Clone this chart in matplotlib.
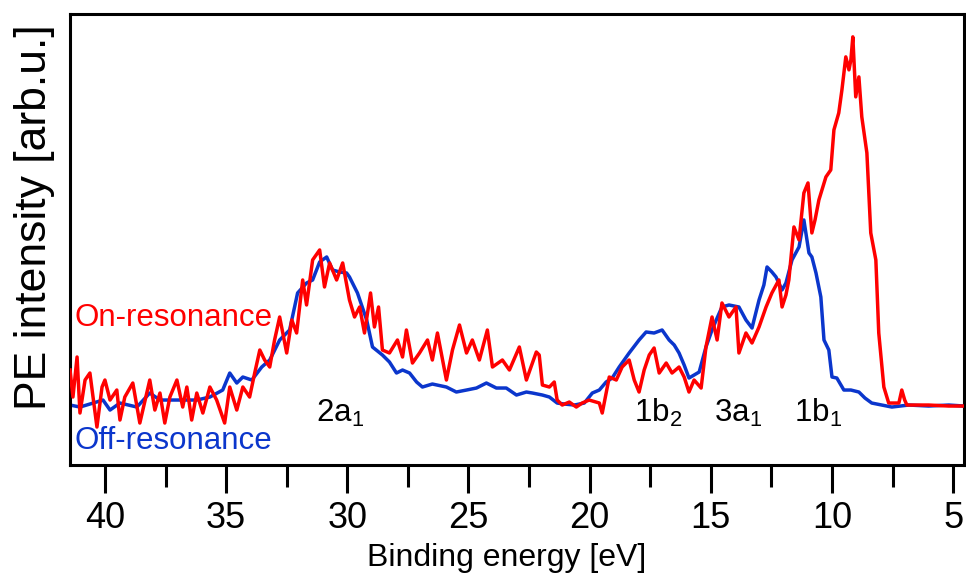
import matplotlib
matplotlib.use("Agg")
import matplotlib.pyplot as plt

plt.rcParams['font.family'] = ['Liberation Sans', 'DejaVu Sans']
plt.rcParams['mathtext.default'] = 'regular'

# Off-resonance spectrum (binding energy [eV], intensity [arb.u.])
off_energy = [41.44, 41.03, 40.62, 40.08, 39.79, 39.38, 38.68, 38.15, 37.73, 37.32,
              36.91, 36.21, 35.67, 35.14, 34.85, 34.56, 34.31, 33.94, 33.53, 33.20,
              32.79, 32.38, 32.05, 31.68, 31.43, 31.14, 30.85, 30.61, 30.32, 30.03,
              29.91, 29.58, 29.20, 28.96, 28.55, 28.26, 27.97, 27.72, 27.43, 27.14,
              26.90, 26.49, 25.91, 25.50, 25.08, 24.67, 24.26, 23.85, 23.44, 23.02,
              22.61, 22.36, 21.95, 21.66, 21.34, 21.05, 20.63, 20.22, 19.89, 19.60,
              19.32, 19.07, 18.78, 18.37, 17.96, 17.67, 17.34, 17.01, 16.72, 16.51,
              16.31, 16.10, 15.90, 15.69, 15.48, 15.20, 14.95, 14.74, 14.54, 14.25,
              13.84, 13.55, 13.30, 13.01, 12.81, 12.68, 12.48, 12.31, 12.06, 11.90,
              11.65, 11.36, 11.16, 10.95, 10.83, 10.66, 10.46, 10.33, 10.13, 10.00,
              9.80, 9.51, 9.22, 8.89, 8.64, 8.36, 7.53, 6.83, 6.01, 5.18, 4.55]
off_intensity = [0, -2, 1, 5, -5, 2, -2, 12, 5, 5,
                 5, 5, 8, 15, 32, 22, 28, 25, 38, 45,
                 65, 75, 112, 122, 125, 143, 148, 135, 133, 132,
                 128, 112, 85, 58, 50, 43, 32, 35, 32, 23,
                 18, 21, 18, 13, 15, 17, 22, 17, 17, 10,
                 13, 12, 10, 8, 2, 1, 0, 2, 12, 15,
                 23, 27, 38, 52, 65, 73, 72, 75, 65, 60,
                 52, 40, 27, 30, 33, 58, 75, 87, 98, 100,
                 98, 85, 77, 105, 120, 138, 133, 128, 115, 122,
                 145, 158, 185, 152, 148, 132, 108, 65, 55, 28,
                 27, 15, 15, 13, 7, 2, -2, 0, -1, 0, -1]

# On-resonance spectrum
on_energy = [41.44, 41.32, 41.15, 41.03, 40.82, 40.62, 40.33, 40.12, 40.00, 39.79,
             39.51, 39.38, 39.18, 38.85, 38.56, 38.15, 37.94, 37.73, 37.53, 37.32,
             37.03, 36.79, 36.62, 36.42, 36.21, 35.96, 35.67, 35.39, 35.06, 34.85,
             34.56, 34.31, 34.03, 33.82, 33.61, 33.41, 33.20, 33.00, 32.79, 32.50,
             32.29, 32.09, 31.84, 31.68, 31.43, 31.14, 30.94, 30.73, 30.44, 30.19,
             29.91, 29.70, 29.49, 29.29, 29.04, 28.88, 28.71, 28.55, 28.26, 27.93,
             27.72, 27.56, 27.31, 27.02, 26.69, 26.49, 26.28, 25.91, 25.66, 25.37,
             25.08, 24.84, 24.55, 24.22, 24.01, 23.60, 23.31, 22.90, 22.61, 22.20,
             22.08, 21.95, 21.66, 21.46, 21.34, 21.13, 20.84, 20.55, 20.31, 20.02,
             19.60, 19.48, 19.19, 18.90, 18.66, 18.37, 18.16, 17.96, 17.75, 17.54,
             17.34, 17.13, 16.84, 16.60, 16.31, 16.10, 15.90, 15.69, 15.40, 15.20,
             14.95, 14.74, 14.54, 14.25, 13.96, 13.84, 13.55, 13.30, 13.01, 12.72,
             12.48, 12.19, 12.06, 11.90, 11.78, 11.57, 11.36, 11.16, 10.99, 10.83,
             10.70, 10.54, 10.25, 10.05, 9.92, 9.72, 9.59, 9.43, 9.30, 9.22,
             9.14, 9.02, 8.89, 8.77, 8.56, 8.40, 8.19, 8.07, 7.86, 7.66,
             7.37, 7.24, 7.12, 7.00, 6.91, 6.01, 5.18, 4.55]
on_intensity = [35, 8, 48, -8, 25, 32, -22, 18, 25, 5,
                15, -15, 8, 22, -18, 25, -5, 12, -18, 8,
                25, -2, 18, -15, 12, -8, 18, 5, -18, 18,
                -5, 18, 8, 32, 55, 45, 38, 65, 88, 52,
                85, 72, 125, 100, 145, 155, 118, 142, 125, 142,
                105, 88, 98, 72, 112, 78, 98, 55, 52, 65,
                48, 75, 42, 52, 65, 45, 72, 25, 55, 80,
                52, 65, 45, 75, 38, 45, 35, 58, 25, 53,
                50, 20, 18, 23, 5, 0, 3, -2, 2, 5,
                2, -8, 28, 25, 38, 45, 25, 13, 35, 50,
                57, 32, 42, 32, 38, 28, 13, 25, 17, 58,
                88, 65, 102, 88, 98, 52, 72, 62, 78, 98,
                112, 125, 98, 110, 125, 178, 165, 212, 222, 172,
                185, 205, 228, 235, 275, 292, 315, 348, 335, 345,
                368, 308, 328, 288, 252, 172, 145, 72, 18, 2,
                2, 2, 15, 5, 0, 0, -1, -1]

x_ticks = [40, 35, 30, 25, 20, 15, 10, 5]
x_minor = [37.5, 32.5, 27.5, 22.5, 17.5, 12.5, 7.5]
peak_labels = ['2a$_1$', '1b$_2$', '3a$_1$', '1b$_1$']
peak_label_pos = [31.30, 18.15, 14.85, 11.55]

RED = '#FF0000'
BLUE = '#0B36CC'

fig = plt.figure(figsize=(9.66, 5.77), dpi=100)
ax = fig.add_axes([0.0725, 0.194, 0.9255, 0.782])

ax.plot(off_energy, off_intensity, color=BLUE, lw=2.5, zorder=2)
ax.plot(on_energy, on_intensity, color=RED, lw=2.5, zorder=3)

ax.set_xlim(41.44, 4.55)
ax.set_ylim(-60, 391)

ax.set_xticks(x_ticks)
ax.set_xticks(x_minor, minor=True)
ax.set_xticklabels([str(t) for t in x_ticks], fontsize=26)
ax.tick_params(axis='x', which='major', direction='out', length=20, width=2.2, pad=6)
ax.tick_params(axis='x', which='minor', direction='out', length=15.5, width=2.2)
ax.set_yticks([])
for s in ax.spines.values():
    s.set_linewidth(2.2)

ax.set_xlabel('Binding energy [eV]', fontsize=23, labelpad=5, x=0.488)
ax.set_ylabel('PE intensity [arb.u.]', fontsize=32, labelpad=11, y=0.55)

ax.text(41.24, 87, 'On-resonance', color=RED, fontsize=22.5, ha='left', va='center')
ax.text(41.24, -36, 'Off-resonance', color=BLUE, fontsize=22.5, ha='left', va='center')
for lab, e in zip(peak_labels, peak_label_pos):
    ax.text(e, -8, lab, color='black', fontsize=22.5, ha='left', va='center')

fig.savefig('out.png', dpi=100)
